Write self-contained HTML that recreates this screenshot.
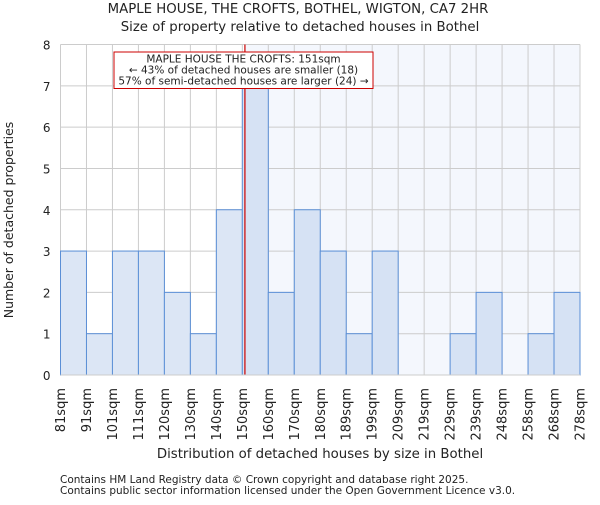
<!DOCTYPE html>
<html><head><meta charset="utf-8"><style>
body{margin:0;background:#fff;}
svg text{font-family:"DejaVu Sans","Liberation Sans",sans-serif;fill:#222;}
</style></head><body>
<svg id="c" width="600" height="500" xmlns="http://www.w3.org/2000/svg">
<text x="298" y="13" font-size="13.3" text-anchor="middle">MAPLE HOUSE, THE CROFTS, BOTHEL, WIGTON, CA7 2HR</text>
<text x="300" y="31" font-size="13.3" text-anchor="middle">Size of property relative to detached houses in Bothel</text>
<g id="plot"></g>
<text x="320" y="458" font-size="13.3" text-anchor="middle">Distribution of detached houses by size in Bothel</text>
<text transform="translate(13,220) rotate(-90)" font-size="12.5" text-anchor="middle">Number of detached properties</text>
<text x="60" y="483" font-size="10.5" fill="#555">Contains HM Land Registry data © Crown copyright and database right 2025.</text>
<text x="60" y="494" font-size="10.5">Contains public sector information licensed under the Open Government Licence v3.0.</text>
</svg>
<script>
const edges=[81,91,101,111,120,130,140,150,160,170,180,189,199,209,219,229,239,248,258,268,278];
const counts=[3,1,3,3,2,1,4,7,2,4,3,1,3,0,0,1,2,0,1,2];
const yTicks=[0,1,2,3,4,5,6,7,8];
const propertySize=151;
const L=60.5,R=580,T=44.5,B=375,ymax=8;
const bw=(R-L)/counts.length;
const ns="http://www.w3.org/2000/svg";
const g=document.getElementById('plot');
function xi(i){return L+i*bw;}
function xv(v){let i=0;while(i<edges.length-2&&v>edges[i+1])i++;return xi(i)+(v-edges[i])/(edges[i+1]-edges[i])*bw;}
function y(v){return B-(v/ymax)*(B-T);}
function el(t,a){const e=document.createElementNS(ns,t);for(const k in a)e.setAttribute(k,a[k]);g.appendChild(e);return e;}
const px=xv(propertySize);
let hl=el('rect',{x:px,y:T,width:R-px,height:B-T,fill:'#f4f7fd'});


yTicks.forEach(t=>{
 let l=el('line',{x1:L,x2:R,y1:y(t),y2:y(t),stroke:'#cccccc','stroke-width':1});
 
 
 let tx=el('text',{x:L-10,y:y(t)+5,'font-size':12,'text-anchor':'end'});tx.textContent=t;
 
 
});
edges.forEach((e,i)=>{
 let l=el('line',{x1:xi(i),x2:xi(i),y1:T,y2:B,stroke:'#cccccc','stroke-width':1});
 
 
 let tx=el('text',{transform:`translate(${xi(i)+4.5},388) rotate(-90)`,'font-size':13,'text-anchor':'end'});tx.textContent=e+'sqm';
 
 
});
counts.forEach((c,i)=>{
 if(c<=0)return;
 let r=el('rect',{x:xi(i),y:y(c),width:bw,height:B-y(c),fill:i>=7?'#d6e2f4':'#dce6f5',stroke:'#5b8fd6','stroke-width':1});
 
 
});
let vl=el('line',{x1:px,x2:px,y1:T,y2:B,stroke:'#cc0000','stroke-width':1.2});


let bx=el('rect',{x:114,y:52,width:259,height:36.5,fill:'#fff',stroke:'#cc0000','stroke-width':1});


['MAPLE HOUSE THE CROFTS: 151sqm','← 43% of detached houses are smaller (18)','57% of semi-detached houses are larger (24) →'].forEach((s,k)=>{
 let t=el('text',{x:243.5,y:62.5+k*11,'font-size':10.5,'text-anchor':'middle'});t.textContent=s;
 
 
});
let ax=el('line',{x1:L,x2:R,y1:B,y2:B,stroke:'#cccccc'});


</script>
</body></html>
